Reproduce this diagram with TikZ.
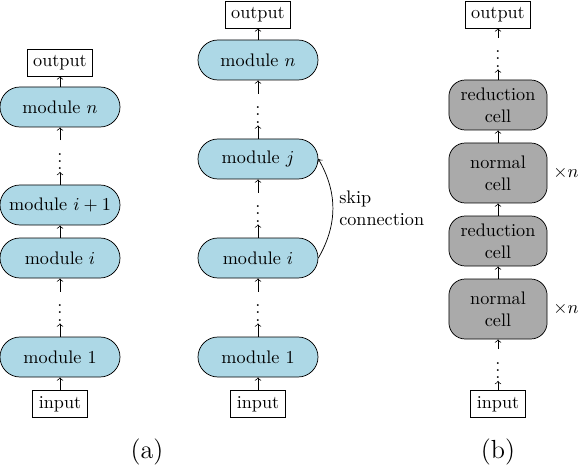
\documentclass[tikz,border=0pt]{standalone}
\usepackage{amsmath}
\usepackage{xcolor}
\definecolor{modblue}{RGB}{173,216,230}
\definecolor{cellgray}{RGB}{170,170,170}

\begin{document}
\begin{tikzpicture}[x=0.55pt,y=0.55pt,
    mod/.style={draw,fill=modblue,rounded corners=11pt,minimum width=66pt,minimum height=22pt},
    cellbox/.style={draw,fill=cellgray,rounded corners=9pt,minimum width=54pt,align=center},
    iobox/.style={draw,fill=white},
    gap/.style={inner sep=1pt}]
    \useasboundingbox (0,0) rectangle (578,468);

    % (a) left: plain chain
    \node[iobox] (A0) at (60,64) {input};
    \node[mod] (A1) at (60,111) {module $1$};
    \node[gap] (Ad1) at (60,160.5) {$\vdots$};
    \node[mod] (A2) at (60,210) {module $i$};
    \node[mod] (A3) at (60,263) {module $i+1$};
    \node[gap] (Ad2) at (60,312) {$\vdots$};
    \node[mod] (A4) at (60,361) {module $n$};
    \node[iobox] (A5) at (60,405.5) {output};
    \foreach \a/\b in {A0/A1,A1/Ad1,Ad1/A2,A2/A3,A3/Ad2,Ad2/A4,A4/A5}
        \draw[->] (\a)--(\b);

    % (a) right: chain with skip connection
    \node[iobox] (B0) at (258,64) {input};
    \node[mod] (B1) at (258,111) {module $1$};
    \node[gap] (Bd1) at (258,160.5) {$\vdots$};
    \node[mod] (B2) at (258,210) {module $i$};
    \node[gap] (Bd2) at (258,259.5) {$\vdots$};
    \node[mod] (B3) at (258,309) {module $j$};
    \node[gap] (Bd3) at (258,358.5) {$\vdots$};
    \node[mod] (B4) at (258,408) {module $n$};
    \node[iobox] (B5) at (258,453.5) {output};
    \foreach \a/\b in {B0/B1,B1/Bd1,Bd1/B2,B2/Bd2,Bd2/B3,B3/Bd3,Bd3/B4,B4/B5}
        \draw[->] (\a)--(\b);
    \draw[->] (B2.east) to[bend right=30] node[right,align=left]{skip\\connection} (B3.east);

    % (b) cells
    \node[iobox] (C0) at (498,64) {input};
    \node[gap] (Cd1) at (498,103) {$\vdots$};
    \node[cellbox,minimum height=33pt] (C1) at (498,159) {normal\\cell};
    \node[cellbox,minimum height=27.5pt] (C2) at (498,227) {reduction\\cell};
    \node[cellbox,minimum height=33pt] (C3) at (498,295) {normal\\cell};
    \node[cellbox,minimum height=27.5pt] (C4) at (498,363) {reduction\\cell};
    \node[gap] (Cd2) at (498,414.5) {$\vdots$};
    \node[iobox] (C5) at (498,453.5) {output};
    \foreach \a/\b in {C0/Cd1,Cd1/C1,C1/C2,C2/C3,C3/C4,C4/Cd2,Cd2/C5}
        \draw[->] (\a)--(\b);
    \node (N1) at (566,159) {$\times n$};
    \node (N2) at (566,295) {$\times n$};

    \node[font=\Large] (La) at (147,16) {(a)};
    \node[font=\Large] (Lb) at (498,16) {(b)};
\end{tikzpicture}
\end{document}
